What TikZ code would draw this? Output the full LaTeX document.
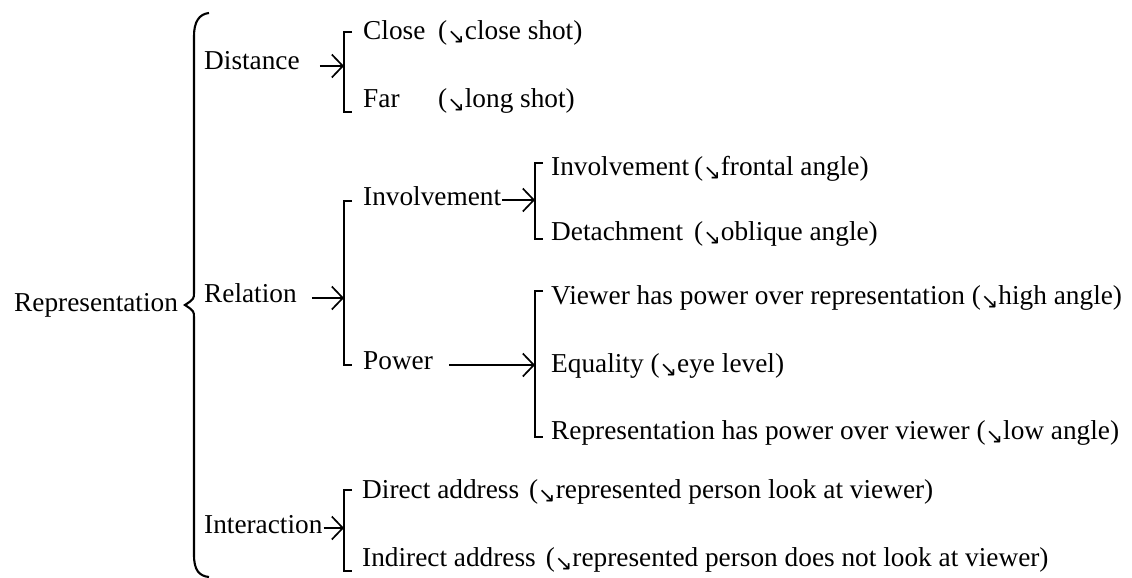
\documentclass[tikz,border=0pt]{standalone}
\usepackage{fontspec}
\setmainfont{Liberation Serif}
\newfontfamily\arrowglyphs{DejaVu Sans}
\usetikzlibrary{arrows.meta}
% small down-right arrow used inside the parentheses
\newcommand\dnarr{\raisebox{-4pt}{\fontsize{21}{21}\selectfont\arrowglyphs ↘}}
\tikzset{
  lbl/.style={anchor=base west, inner sep=0pt, font=\fontsize{27.3}{32}\selectfont},
  brk/.style={line width=1.9pt},
  arr/.style={line width=1.7pt, -{Straight Barb[length=11pt,width=23pt,line width=1.7pt]}},
  brace/.style={line width=2.1pt}
}
\begin{document}
\begin{tikzpicture}[x=1pt,y=-1pt]
\useasboundingbox (0,0) rectangle (1132,578);
\fill[white] (0,0) rectangle (1132,578);

% root and its brace
\node[lbl] (rep) at (14,311) {Representation};
\draw[brace] (209,13) .. controls (199,14) and (194,22) .. (194,36)
  -- (194,292) .. controls (194,299) .. (185,305) .. controls (194,311) .. (194,318)
  -- (194,555) .. controls (194,570) and (199,576) .. (209,577);

% first level
\node[lbl] (dist) at (204,70) {Distance};
\node[lbl] (rel) at (204,302) {Relation};
\node[lbl] (inter) at (204,533) {Interaction};

% Distance branch
\coordinate (distT) at (344,32);
\coordinate (distB) at (344,112);
\draw[brk] ([xshift=8pt]distT) -- (distT) -- (distB) -- ([xshift=8pt]distB);
\draw[arr] ([xshift=20pt,yshift=4pt]dist.base east) -- ([yshift=4pt]dist.base east -| distT);
\node[lbl] (close) at (363,40) {\makebox[75pt][l]{Close}(\dnarr close shot)};
\node[lbl] (far) at (363,107) {\makebox[75pt][l]{Far}(\dnarr long shot)};

% Relation branch
\coordinate (relT) at (344,201);
\coordinate (relB) at (344,365);
\draw[brk] ([xshift=8pt]relT) -- (relT) -- (relB) -- ([xshift=8pt]relB);
\draw[arr] ([xshift=15pt,yshift=4pt]rel.base east) -- ([yshift=4pt]rel.base east -| relT);
\node[lbl] (invol) at (363,205) {Involvement};
\node[lbl] (power) at (363,369) {Power};

% Involvement sub-branch
\coordinate (invT) at (535,163);
\coordinate (invB) at (535,239);
\draw[brk] ([xshift=8pt]invT) -- (invT) -- (invB) -- ([xshift=8pt]invB);
\draw[arr] ([xshift=1pt,yshift=5pt]invol.base east) -- ([yshift=5pt]invol.base east -| invT);
\node[lbl] (front) at (551,175) {\makebox[143pt][l]{Involvement}(\dnarr frontal angle)};
\node[lbl] (detach) at (551,240) {\makebox[143pt][l]{Detachment}(\dnarr oblique angle)};

% Power sub-branch
\coordinate (powT) at (535,291);
\coordinate (powB) at (535,437);
\draw[brk] ([xshift=8pt]powT) -- (powT) -- (powB) -- ([xshift=8pt]powB);
\draw[arr] ([xshift=16pt,yshift=4pt]power.base east) -- ([yshift=4pt]power.base east -| powT);
\node[lbl] (high) at (551,304) {Viewer has power over representation (\dnarr high angle)};
\node[lbl] (equal) at (551,372) {Equality (\dnarr eye level)};
\node[lbl] (low) at (551,439) {Representation has power over viewer (\dnarr low angle)};

% Interaction branch
\coordinate (intT) at (344,490);
\coordinate (intB) at (344,571);
\draw[brk] ([xshift=8pt]intT) -- (intT) -- (intB) -- ([xshift=8pt]intB);
\draw[arr] ([xshift=1pt,yshift=5pt]inter.base east) -- ([yshift=5pt]inter.base east -| intT);
\node[lbl] (direct) at (362,498) {Direct address\hspace{10pt}(\dnarr represented person look at viewer)};
\node[lbl] (indirect) at (362,566) {Indirect address\hspace{10pt}(\dnarr represented person does not look at viewer)};
\end{tikzpicture}
\end{document}
